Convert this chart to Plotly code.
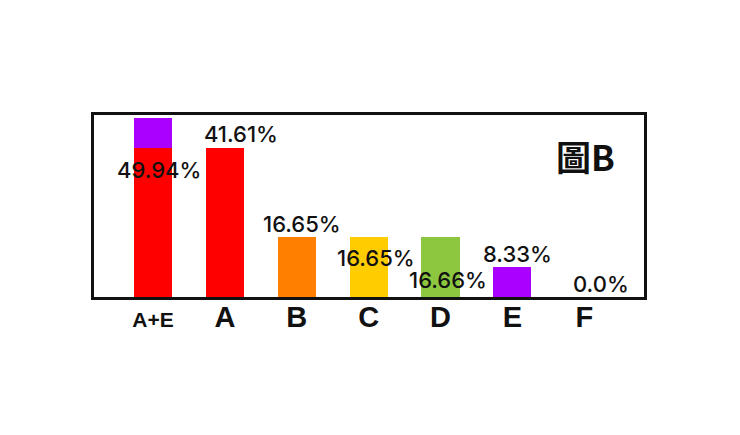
import plotly.graph_objects as go

categories = ["A+E", "A", "B", "C", "D", "E", "F"]
base_values = [41.61, 41.61, 16.65, 16.65, 16.66, 8.33, 0.0]
stack_values = [8.33, 0, 0, 0, 0, 0, 0]
label_values = [49.94, 41.61, 16.65, 16.65, 16.66, 8.33, 0.0]
tick_labels = ["A+E", "A", "B", "C", "D", "E", "F"]
title_text = "圖B"

bar_colors = ["#ff0000", "#ff0000", "#ff8000", "#ffcc00", "#8dc63f", "#aa00ff", "#ffffff"]
stack_color = "#aa00ff"
# label offsets in pixels (x, y) relative to top of bar
label_shift_x = [6, 16, 5, 7, 7, 5, 17]
label_shift_y = [-52, 14, 13, -21, -43, 13, 13]

fig = go.Figure()
fig.add_trace(go.Bar(x=categories, y=base_values, marker=dict(color=bar_colors, line=dict(width=0)),
                     width=0.53, hoverinfo="skip"))
fig.add_trace(go.Bar(x=categories, y=stack_values, marker=dict(color=stack_color, line=dict(width=0)),
                     width=0.53, hoverinfo="skip"))

for i, c in enumerate(categories):
    fig.add_annotation(x=c, y=label_values[i], text=f"{label_values[i]}%", showarrow=False,
                       xshift=label_shift_x[i], yshift=label_shift_y[i], yanchor="middle",
                       xanchor="center",
                       font=dict(family="Inter", size=22, weight=500, color="#111111"))

fig.add_annotation(xref="paper", yref="paper", x=0.893, y=0.78, xanchor="center", yanchor="middle",
                   text=title_text, showarrow=False,
                   font=dict(family="Noto Sans CJK TC", size=35, weight="bold", color="#111111"))

ticktext = [f"<span style='font-size:21px'>{t}</span>" if t == "A+E" else t for t in tick_labels]

fig.update_layout(
    barmode="stack", showlegend=False, width=740, height=435,
    margin=dict(l=86, r=104, t=107, b=146),
    paper_bgcolor="white", plot_bgcolor="white",
    xaxis=dict(range=[-0.82, 6.83], tickvals=categories, ticktext=ticktext, showgrid=False,
               showline=True, mirror=True, linecolor="#111111", linewidth=2.5, ticks="",
               ticklabelstandoff=-8,
               tickfont=dict(family="Liberation Sans", size=29, weight="bold", color="#111111")),
    yaxis=dict(range=[0, 50.8], showgrid=False, showticklabels=False, zeroline=False,
               showline=True, mirror=True, linecolor="#111111", linewidth=2.5, ticks=""),
)
fig.write_html("out.html")
